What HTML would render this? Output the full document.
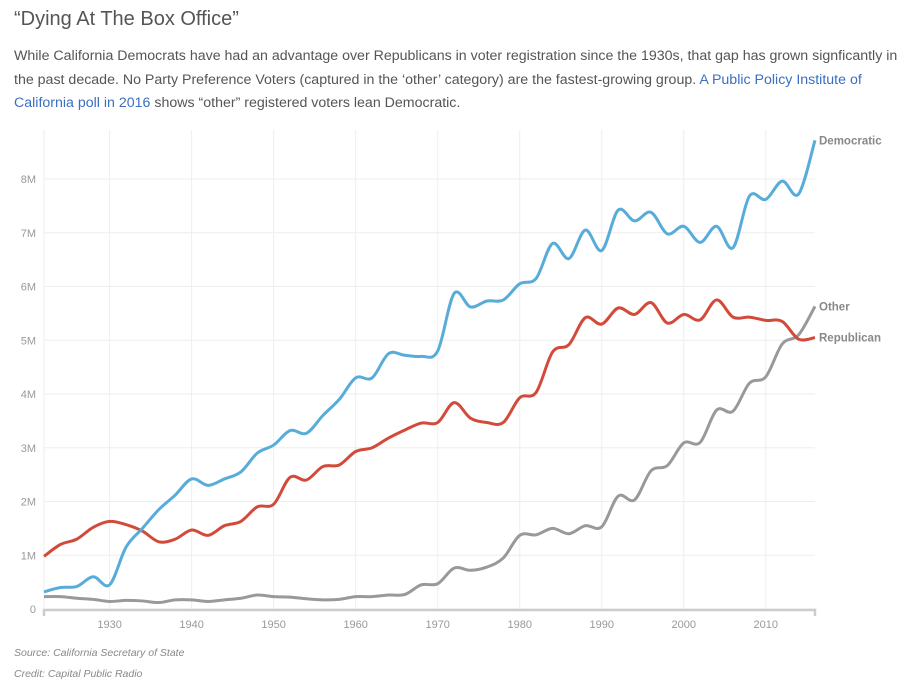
<!DOCTYPE html>
<html><head><meta charset="utf-8"><style>
body{margin:0;background:#fff;width:906px;height:687px;overflow:hidden;font-family:"Liberation Sans",sans-serif}
#title{position:absolute;left:14px;top:8px;font-size:20px;color:#555;margin:0;font-weight:normal}
#desc{position:absolute;left:14px;top:45px;width:885px;font-size:14.2px;line-height:23.5px;color:#555;margin:0}
#desc a{color:#3a6fc4;text-decoration:none}
.note{position:absolute;left:14px;font-size:10.5px;font-style:italic;color:#888}
svg{position:absolute;left:0;top:0}
</style></head><body>
<h1 id="title">“Dying At The Box Office”</h1>
<p id="desc">While California Democrats have had an advantage over Republicans in voter registration since the 1930s, that gap has grown signficantly in the past decade. No Party Preference Voters (captured in the ‘other’ category) are the fastest-growing group. <a href="#">A Public Policy Institute of California poll in 2016</a> shows “other” registered voters lean Democratic.</p>
<svg id="chart" width="906" height="687"></svg>
<div class="note" style="top:647px">Source: California Secretary of State</div>
<div class="note" style="top:668px">Credit: Capital Public Radio</div>
<script>
const years=[];for(let y=1922;y<=2016;y+=2)years.push(y);
const democratic=[0.32,0.40,0.42,0.60,0.45,1.15,1.50,1.85,2.12,2.42,2.30,2.42,2.55,2.90,3.05,3.32,3.27,3.60,3.90,4.30,4.30,4.75,4.72,4.70,4.80,5.87,5.62,5.73,5.75,6.05,6.15,6.80,6.52,7.05,6.67,7.42,7.22,7.38,6.98,7.12,6.82,7.12,6.72,7.68,7.62,7.96,7.72,8.72];
const republican=[0.98,1.20,1.30,1.52,1.63,1.57,1.45,1.25,1.30,1.47,1.37,1.55,1.63,1.90,1.95,2.45,2.40,2.65,2.68,2.93,3.00,3.18,3.33,3.46,3.47,3.84,3.55,3.47,3.47,3.93,4.03,4.78,4.92,5.42,5.30,5.60,5.48,5.70,5.32,5.48,5.38,5.75,5.43,5.43,5.37,5.35,5.02,5.05];
const other=[0.23,0.23,0.20,0.18,0.14,0.16,0.15,0.12,0.17,0.17,0.14,0.17,0.20,0.26,0.23,0.22,0.19,0.17,0.18,0.23,0.23,0.26,0.27,0.45,0.47,0.76,0.72,0.78,0.95,1.37,1.38,1.50,1.40,1.55,1.53,2.10,2.03,2.57,2.67,3.09,3.10,3.70,3.68,4.20,4.32,4.93,5.10,5.63];
const xTicks=[1930,1940,1950,1960,1970,1980,1990,2000,2010];
const yTicks=[0,1,2,3,4,5,6,7,8];
const yLabels=["0","1M","2M","3M","4M","5M","6M","7M","8M"];
const seriesNames=["Democratic","Other","Republican"];
</script>
<script>
const svg=document.getElementById('chart');const NS='http://www.w3.org/2000/svg';
const X0=44,X1=815,Y0=609,YS=53.75;
const x=y=>X0+(y-1922)*(X1-X0)/94;
const yv=v=>Y0-v*YS;
function mk(t,a){const e=document.createElementNS(NS,t);for(const k in a)e.setAttribute(k,a[k]);svg.appendChild(e);return e;}
yTicks.forEach((t,i)=>{
 const g=mk('line',{x1:X0,x2:X1,y1:yv(t),y2:yv(t),stroke:'#eee','stroke-width':1});
 
 
 const l=mk('text',{x:36,y:yv(t)+4,'text-anchor':'end','font-size':11,fill:'#999','font-family':'Liberation Sans, sans-serif'});
 l.textContent=yLabels[i];
 
 
});
const lg=mk('line',{x1:X0,x2:X0,y1:130,y2:Y0,stroke:'#eee'});


xTicks.forEach(t=>{
 const g=mk('line',{x1:x(t),x2:x(t),y1:130,y2:Y0,stroke:'#eee'});
 
 
 const l=mk('text',{x:x(t),y:628,'text-anchor':'middle','font-size':11,fill:'#999','font-family':'Liberation Sans, sans-serif'});
 l.textContent=t;
 
 
});
const ax=mk('path',{d:`M${X0},616V${Y0+1}H${X1}V616`,fill:'none',stroke:'#ccc','stroke-width':2.5});


function path(vals){
 const p=vals.map((v,i)=>[x(years[i]),yv(v)]);let d=`M${p[0][0]},${p[0][1]}`;
 for(let i=0;i<p.length-1;i++){const a=p[i-1]||p[i],b=p[i],c=p[i+1],e=p[i+2]||c;
  d+=`C${b[0]+(c[0]-a[0])/6},${b[1]+(c[1]-a[1])/6} ${c[0]-(e[0]-b[0])/6},${c[1]-(e[1]-b[1])/6} ${c[0]},${c[1]}`;}
 return d;}
const defs=[[other,'#999','other-line'],[republican,'#d24a3a','republican-line'],[democratic,'#58acd9','democratic-line']];
defs.forEach(([v,c,n])=>{
 const p=mk('path',{d:path(v),fill:'none',stroke:c,'stroke-width':3,'stroke-linejoin':'round'});
 
 
});
const lab=[[democratic,'Democratic',0],[other,'Other',0],[republican,'Republican',0]];
lab.forEach(([v,t])=>{
 const l=mk('text',{x:819,y:yv(v[v.length-1])+4,'font-size':11.5,'font-weight':'bold',fill:'#888','font-family':'Liberation Sans, sans-serif'});
 l.textContent=t;
 
 
});
</script>
</body></html>
